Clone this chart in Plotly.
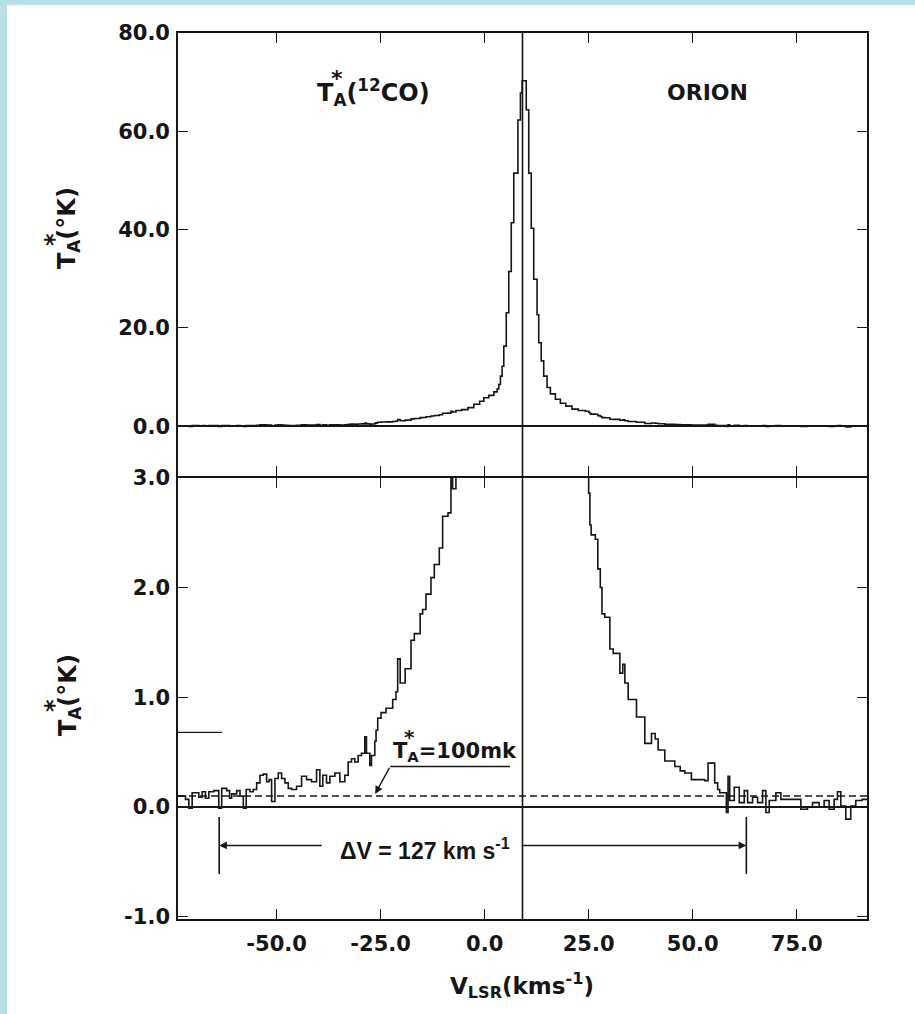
import plotly.graph_objects as go

# ---------------------------------------------------------------------------
# 12CO (J=1-0) spectrum toward Orion: antenna temperature vs. LSR velocity.
# Each entry is the left edge of a channel step and its temperature (K).
# ---------------------------------------------------------------------------
VELOCITY_EDGES = [
    -73.7, -71.9, -71.1, -70.3, -68.7, -67.9, -67.1, -66.3, -65.1, -63.9,
    -63.2, -62.0, -61.3, -60.8, -59.6, -58.8, -58.0, -57.3, -56.4, -55.6,
    -54.8, -54.0, -53.2, -52.4, -51.8, -51.2, -50.4, -49.6, -48.8, -48.0,
    -47.2, -46.4, -45.2, -44.0, -42.8, -41.6, -40.4, -39.6, -38.9, -38.0,
    -37.2, -36.0, -34.8, -33.6, -32.8, -32.0, -31.2, -30.4, -29.6, -28.8,
    -28.4, -27.6, -27.2, -26.4, -26.1, -25.7, -24.9, -23.7, -22.1, -21.3,
    -20.9, -20.3, -19.1, -17.7, -16.9, -15.5, -14.9, -14.1, -12.9, -12.1,
    -10.9, -10.1, -8.8, -8.1, -7.7, -6.9, -5.5, -4.0, -2.6, -1.2,
    -0.2, 1.0, 2.2, 3.0, 3.4, 3.8, 4.2, 4.6, 5.2, 5.8,
    6.4, 7.0, 8.0, 8.6, 9.0, 10.0, 10.6, 11.2, 11.8, 12.6,
    13.0, 13.6, 14.2, 15.0, 15.8, 17.0, 18.2, 19.5, 21.0, 22.5,
    24.2, 25.0, 25.3, 25.6, 26.6, 27.2, 27.8, 28.2, 28.9, 30.1,
    30.9, 32.5, 33.2, 33.7, 34.5, 36.5, 38.5, 40.1, 41.0, 41.7,
    43.3, 45.7, 47.0, 48.1, 49.7, 52.9, 53.7, 55.3, 56.0, 56.5,
    58.1, 58.5, 58.9, 60.0, 61.2, 62.4, 63.2, 64.4, 65.6, 66.8,
    67.6, 68.4, 70.0, 71.2, 72.8, 76.0, 77.6, 78.8, 80.4, 81.6,
    82.8, 84.0, 84.8, 85.6, 86.8, 88.0, 89.2, 90.7,
]
T_ANTENNA = [
    0.10, 0.07, -0.01, 0.13, 0.09, 0.14, 0.08, 0.14, 0.15, -0.01,
    0.17, 0.15, 0.08, 0.12, 0.15, 0.10, -0.01, 0.16, 0.14, 0.16,
    0.22, 0.29, 0.30, 0.23, 0.25, 0.05, 0.26, 0.31, 0.26, 0.22,
    0.17, 0.16, 0.19, 0.28, 0.25, 0.23, 0.34, 0.19, 0.29, 0.22,
    0.28, 0.31, 0.23, 0.29, 0.41, 0.44, 0.41, 0.47, 0.49, 0.64,
    0.49, 0.38, 0.47, 0.60, 0.70, 0.81, 0.86, 0.90, 0.98, 1.05,
    1.35, 1.13, 1.26, 1.52, 1.58, 1.76, 1.80, 1.94, 2.09, 2.21,
    2.36, 2.65, 2.68, 3.05, 2.90, 3.2, 3.4, 3.8, 4.5, 5.1,
    5.8, 6.3, 7.0, 7.6, 8.5, 10.2, 12.2, 16.3, 23.1, 31.5,
    41.4, 51.5, 62.3, 67.8, 70.3, 64.4, 51.5, 40.3, 29.9, 22.7,
    17.0, 13.3, 10.2, 7.9, 6.6, 5.5, 4.7, 4.1, 3.5, 3.2,
    3.05, 2.86, 2.57, 2.48, 2.44, 2.17, 2.00, 1.76, 1.73, 1.44,
    1.40, 1.22, 1.30, 1.13, 0.98, 0.82, 0.58, 0.67, 0.62, 0.52,
    0.42, 0.37, 0.33, 0.31, 0.25, 0.24, 0.40, 0.22, 0.16, 0.13,
    -0.05, 0.28, 0.06, 0.18, 0.04, 0.15, 0.04, 0.09, 0.04, 0.15,
    -0.05, 0.06, 0.13, 0.07, 0.07, -0.02, 0.00, 0.04, 0.00, 0.06,
    -0.02, 0.07, 0.14, 0.01, -0.11, 0.01, 0.06, 0.07,
]
V_END = 91.9

# Axis ticks
X_TICKS = [-50.0, -25.0, 0.0, 25.0, 50.0, 75.0]
X_TICK_TEXT = ["-50.0", "-25.0", "0.0", "25.0", "50.0", "75.0"]
TOP_Y_TICKS = [0.0, 20.0, 40.0, 60.0, 80.0]
TOP_Y_TEXT = ["0.0", "20.0", "40.0", "60.0", "80.0"]
LOW_Y_TICKS = [-1.0, 0.0, 1.0, 2.0, 3.0]
LOW_Y_TEXT = ["-1.0", "0.0", "1.0", "2.0", "3.0"]

# Reference levels / markers (data units)
V_SYSTEMIC = 9.1            # vertical line through the line centre
DETECTION_LEVEL = 0.1       # T_A* = 100 mK
WING_EDGES = [-63.8, 62.9]  # full width at 100 mK, dV = 127 km/s
REF_MARK_LEVEL = 0.68
REF_MARK_END = -63.1

X_RANGE = [-73.7, V_END]
TOP_RANGE = [-10.15, 80.0]
LOW_RANGE = [-1.02, 3.0]

# ---------------------------------------------------------------------------
W, H = 915, 1014
ML, MR, MT, MB = 178, 48, 33, 95
PW, PH = W - ML - MR, H - MT - MB
LW = 1.6                            # axis line width
SPLIT = (919 - 477) / PH            # boundary between the two panels
HALF_GAP = (LW / 2) / PH            # lets the two border lines coincide


def paper(px, py):
    """Page pixel -> paper coordinates of the plotting area."""
    return (px - ML) / PW, (H - MB - py) / PH


x_steps = VELOCITY_EDGES + [V_END]
y_steps = T_ANTENNA + [T_ANTENNA[-1]]

INK = "#161616"
TICK_FONT = dict(family="DejaVu Sans", size=21, color=INK, weight="bold")

fig = go.Figure()
fig.add_trace(go.Scatter(x=x_steps, y=y_steps, mode="lines", line_shape="hv",
                         line=dict(color=INK, width=1.6), xaxis="x", yaxis="y",
                         showlegend=False, hoverinfo="skip"))
fig.add_trace(go.Scatter(x=x_steps, y=y_steps, mode="lines", line_shape="hv",
                         line=dict(color=INK, width=1.6), xaxis="x2", yaxis="y2",
                         showlegend=False, hoverinfo="skip"))

axis_common = dict(showline=True, linecolor=INK, linewidth=LW, mirror="ticks",
                   ticks="inside", ticklen=10, tickwidth=1.4, tickcolor=INK,
                   showgrid=False)

fig.update_layout(
    width=W, height=H,
    margin=dict(l=ML, r=MR, t=MT, b=MB, pad=0),
    paper_bgcolor="white", plot_bgcolor="white",
    xaxis=dict(domain=[0, 1], anchor="y", range=X_RANGE, tickvals=X_TICKS,
               showticklabels=False, zeroline=False, **axis_common),
    yaxis=dict(domain=[SPLIT + HALF_GAP, 1], anchor="x", range=TOP_RANGE,
               tickvals=TOP_Y_TICKS, ticktext=TOP_Y_TEXT, tickfont=TICK_FONT,
               ticklabelstandoff=2, zeroline=True, zerolinecolor=INK,
               zerolinewidth=1.6, **axis_common),
    xaxis2=dict(domain=[0, 1], anchor="y2", range=X_RANGE, tickvals=X_TICKS,
                ticktext=X_TICK_TEXT, tickfont=TICK_FONT, ticklabelstandoff=5,
                zeroline=False, **axis_common),
    yaxis2=dict(domain=[0, SPLIT - HALF_GAP], anchor="x2", range=LOW_RANGE,
                tickvals=LOW_Y_TICKS, ticktext=LOW_Y_TEXT, tickfont=TICK_FONT,
                ticklabelstandoff=2, zeroline=True, zerolinecolor=INK,
                zerolinewidth=1.6, **axis_common),
)

shapes = []
# light blue page edge (left and top)
BLUE = "#B7DFE4"
shapes.append(dict(type="rect", xref="paper", yref="paper",
                   x0=paper(0, 0)[0], x1=paper(7, 0)[0],
                   y0=paper(0, H)[1], y1=paper(0, 0)[1],
                   fillcolor=BLUE, line_width=0, layer="below"))
shapes.append(dict(type="rect", xref="paper", yref="paper",
                   x0=paper(0, 0)[0], x1=paper(W, 0)[0],
                   y0=paper(0, 5)[1], y1=paper(0, 0)[1],
                   fillcolor=BLUE, line_width=0, layer="below"))
# systemic velocity line through both panels
shapes.append(dict(type="line", xref="x", yref="paper", x0=V_SYSTEMIC,
                   x1=V_SYSTEMIC, y0=0, y1=1, line=dict(color=INK, width=1.6)))
# 100 mK level
shapes.append(dict(type="line", xref="x2 domain", yref="y2", x0=0, x1=1,
                   y0=DETECTION_LEVEL, y1=DETECTION_LEVEL,
                   line=dict(color=INK, width=1.5, dash="7px,4px")))
# short reference mark on the left
shapes.append(dict(type="line", xref="x2", yref="y2", x0=X_RANGE[0],
                   x1=REF_MARK_END, y0=REF_MARK_LEVEL, y1=REF_MARK_LEVEL,
                   line=dict(color=INK, width=1.4)))
# wing-edge bars of the full width
for v in WING_EDGES:
    shapes.append(dict(type="line", xref="x2", yref="y2", x0=v, x1=v,
                       y0=-0.09, y1=-0.61, line=dict(color=INK, width=1.6)))
# leader for the 100 mK label
shapes.append(dict(type="line", xref="x2", yref="y2", x0=-22.7, x1=6.1,
                   y0=0.37, y1=0.37, line=dict(color=INK, width=1.4)))
fig.update_layout(shapes=shapes)

ann = []


def text_at(px, py, text, size=22, family="DejaVu Sans", angle=0,
            xanchor="center", weight="bold"):
    xp, yp = paper(px, py)
    ann.append(dict(xref="paper", yref="paper", x=xp, y=yp, text=text,
                    showarrow=False, xanchor=xanchor, yanchor="middle",
                    textangle=angle,
                    font=dict(family=family, size=size, color=INK,
                              weight=weight)))


# y-axis titles (star placed over the subscript A)
text_at(69, 228, "T<sub>A</sub>(°K)", size=24, angle=-90)
text_at(54, 240, "*", size=24, angle=-90)
text_at(69, 695, "T<sub>A</sub>(°K)", size=24, angle=-90)
text_at(54, 706, "*", size=24, angle=-90)

# panel labels
text_at(315, 92, "T<sub>A</sub>(<sup>12</sup>CO)", size=24, xanchor="left")
text_at(337, 78, "*", size=22)
text_at(707, 92, "ORION", size=22)

# 100 mK label
text_at(391, 752, "T<sub>A</sub>=100mk", size=21, xanchor="left")
text_at(409, 737, "*", size=20)

# dV label
text_at(425, 849, "ΔV = 127 km s<sup>-1</sup>", size=23,
        family="Liberation Sans", weight="bold")

# x-axis title
text_at(522, 985, "V<sub>LSR</sub>(kms<sup>-1</sup>)", size=23)

# arrows
arrow = dict(showarrow=True, arrowhead=2, arrowsize=1.1, arrowwidth=1.4,
             arrowcolor=INK, xref="x2", yref="y2", axref="x2", ayref="y2",
             text="")
ann.append(dict(x=-26.3, y=0.12, ax=-22.7, ay=0.37, **arrow))
ann.append(dict(x=WING_EDGES[0], y=-0.35, ax=-38.8, ay=-0.35, **arrow))
ann.append(dict(x=WING_EDGES[1], y=-0.35, ax=8.5, ay=-0.35, **arrow))

fig.update_layout(annotations=ann)

fig.write_html("out.html")
